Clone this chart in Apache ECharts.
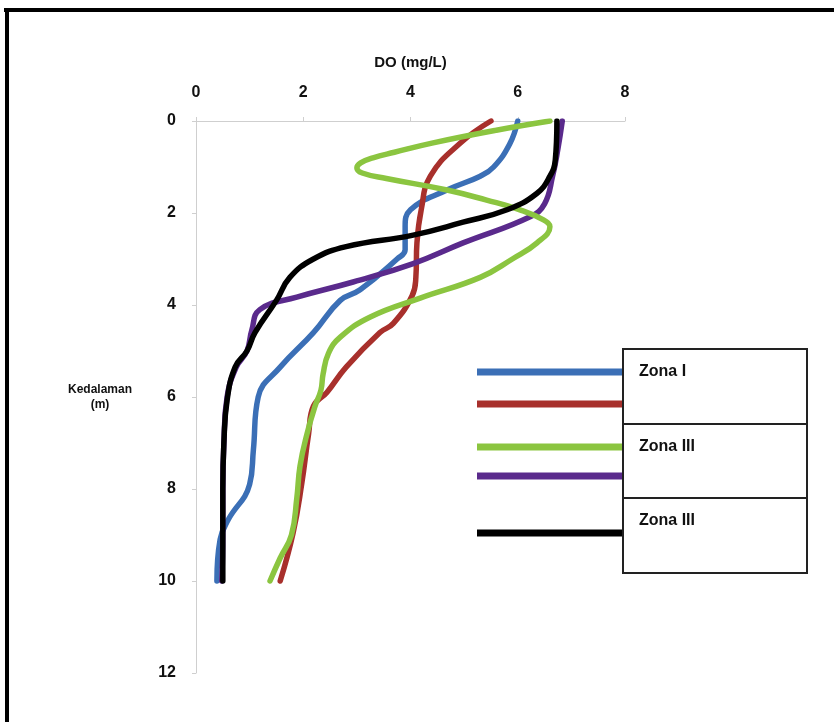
<!DOCTYPE html>
<html>
<head>
<meta charset="utf-8">
<script src="https://cdn.jsdelivr.net/npm/echarts@6/dist/echarts.min.js"></script>
<style>
html,body{margin:0;padding:0;background:#fff;}
#chart{width:834px;height:722px;}
</style>
</head>
<body>
<div id="chart"></div>
<script>
// DO (mg/L) vs depth (m) pairs: [DO, depth]
const zonaI_a = [[6.0,0],[5.85,0.5],[5.55,1.0],[5.3,1.2],[4.68,1.5],[4.0,1.93],[3.9,2.3],[3.9,2.8],[3.75,3.0],[3.06,3.67],[2.69,3.9],[2.19,4.6],[1.57,5.35],[1.16,6.0],[1.07,7.15],[1.0,7.9],[0.6,8.67],[0.45,9.1],[0.39,10]];
const zonaI_b = [[5.5,0],[4.93,0.48],[4.37,1.2],[4.2,1.93],[4.12,2.65],[4.1,3.4],[4.03,3.8],[3.68,4.4],[3.43,4.6],[2.8,5.35],[2.44,5.9],[2.19,6.2],[2.1,6.8],[1.97,7.9],[1.81,8.96],[1.57,10]];
const zonaII_a = [[6.6,0],[5.6,0.2],[4.4,0.48],[3.7,0.68],[3.3,0.8],[3.07,0.91],[3.0,1.02],[3.1,1.13],[3.55,1.25],[4.68,1.5],[5.42,1.72],[6.04,1.93],[6.48,2.15],[6.6,2.3],[6.36,2.65],[5.9,3.0],[5.3,3.4],[4.18,3.85],[3.25,4.26],[2.69,4.7],[2.47,5.05],[2.37,5.5],[2.33,5.85],[2.22,6.2],[2.07,6.8],[1.94,7.5],[1.88,8.2],[1.78,9.0],[1.57,9.5],[1.38,10]];
const zonaII_b = [[6.83,0],[6.75,0.6],[6.65,1.2],[6.5,1.8],[6.23,2.08],[4.98,2.65],[4.05,3.1],[2.93,3.5],[1.88,3.83],[1.19,4.1],[1.04,4.55],[0.95,5.0],[0.75,5.35],[0.58,6.0],[0.52,7],[0.5,8],[0.5,9],[0.48,10]];
const zonaIII = [[6.73,0],[6.7,0.85],[6.6,1.2],[6.36,1.57],[5.8,1.93],[4.98,2.2],[4.05,2.48],[2.8,2.73],[2.19,3.0],[1.75,3.4],[1.5,3.9],[1.1,4.6],[0.95,5.0],[0.73,5.35],[0.58,6.07],[0.52,7],[0.5,8],[0.5,9],[0.5,10]];
const xTicks = {min:0, max:8, interval:2};
const yTicks = {min:0, max:12, interval:2};
const legendLabels = ['Zona I','Zona III','Zona III'];
const xTitle = 'DO (mg/L)';
const yTitle = 'Kedalaman\n(m)';

const colors = ['#3B6FB6','#A8302C','#8BC540','#5A2A8C','#000000'];
const seriesData = [zonaI_a, zonaI_b, zonaII_a, zonaII_b, zonaIII];

const chart = echarts.init(document.getElementById('chart'));
const font = 'Liberation Sans, Arial, sans-serif';

const series = seriesData.map((d,i)=>({
  type:'line', data:d, smooth:0.45, showSymbol:false, symbol:'none',
  lineStyle:{color:colors[i], width:5.5, cap:'round', join:'round'},
  z: 2 + (i===2 ? 1 : 0) + (i===4 ? 2 : 0),
  silent:true, animation:false
}));

// Legend graphics (custom layout)
const legX1 = 477, legX2 = 623;
const legY = [372, 404, 447, 476, 533];
const graphics = [];
legY.forEach((y,i)=>{
  graphics.push({type:'line', shape:{x1:legX1,y1:y,x2:legX2,y2:y}, style:{stroke:colors[i], lineWidth:7}, z:10});
});
const boxTop = [349, 424, 498];
const boxH = [75, 74, 75];
boxTop.forEach((t,i)=>{
  graphics.push({type:'rect', shape:{x:623,y:t,width:184,height:boxH[i]}, style:{fill:'#fff', stroke:'#222', lineWidth:2}, z:11});
  graphics.push({type:'text', x:639, y:t+23, style:{text:legendLabels[i], font:'bold 16px '+font, fill:'#111', verticalAlign:'middle'}, z:12});
});
// Frame
graphics.push({type:'line', shape:{x1:4,y1:10,x2:834,y2:10}, style:{stroke:'#000', lineWidth:4}, z:20});
graphics.push({type:'line', shape:{x1:7,y1:8,x2:7,y2:722}, style:{stroke:'#000', lineWidth:4}, z:20});
graphics.push({type:'text', x:100, y:397, style:{text:yTitle, font:'bold 12px '+font, fill:'#111', align:'center', verticalAlign:'middle', lineHeight:15}, z:12});

chart.setOption({
  animation:false,
  backgroundColor:'#fff',
  grid:{left:196, top:121, width:429, height:552, containLabel:false},
  xAxis:{
    type:'value', position:'top', min:xTicks.min, max:xTicks.max, interval:xTicks.interval,
    name:xTitle, nameLocation:'middle', nameGap:51,
    nameTextStyle:{fontFamily:font, fontWeight:'bold', fontSize:15, color:'#111'},
    axisLine:{show:true, lineStyle:{color:'#cfcfcf', width:1}},
    axisTick:{show:true, length:4, lineStyle:{color:'#cfcfcf'}},
    axisLabel:{fontFamily:font, fontWeight:'bold', fontSize:16, color:'#111', margin:20},
    splitLine:{show:false}
  },
  yAxis:{
    type:'value', inverse:true, min:yTicks.min, max:yTicks.max, interval:yTicks.interval,
    axisLine:{show:true, lineStyle:{color:'#cfcfcf', width:1}},
    axisTick:{show:true, length:4, lineStyle:{color:'#cfcfcf'}},
    axisLabel:{fontFamily:font, fontWeight:'bold', fontSize:16, color:'#111', margin:20},
    splitLine:{show:false}
  },
  series:series,
  graphic:graphics
});
</script>
</body>
</html>
